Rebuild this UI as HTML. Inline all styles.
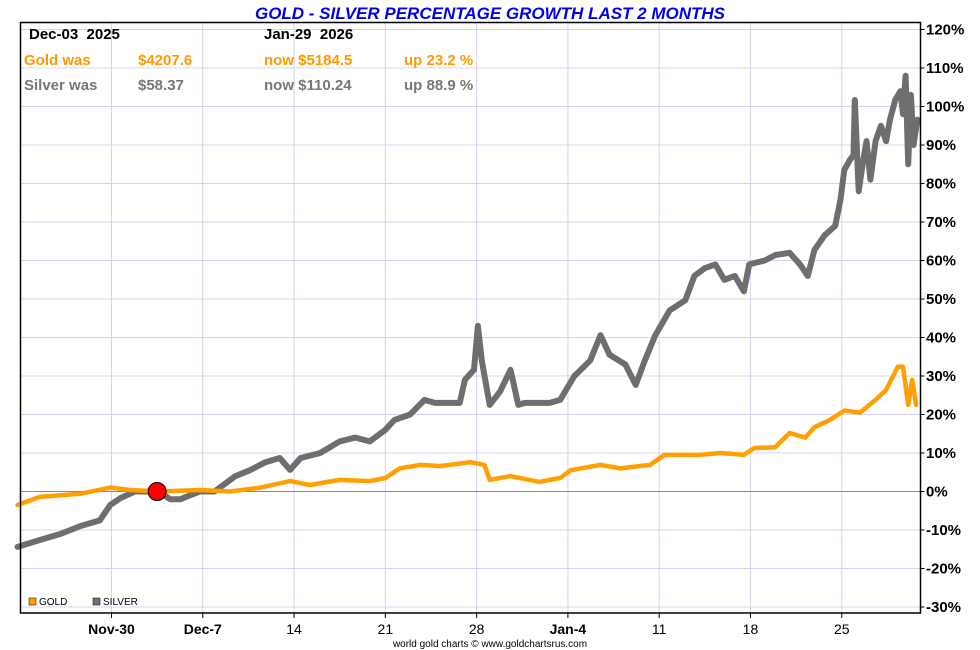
<!DOCTYPE html>
<html><head><meta charset="utf-8"><style>
body{margin:0;background:#fff;}
svg{display:block;font-family:"Liberation Sans",sans-serif;}
</style></head><body>
<svg id="chart" width="980" height="650" viewBox="0 0 980 650"></svg>
<script>
const silverDays=[-7.2,-5.5,-3.9,-2.4,-0.9,-0.1,0.7,1.8,3.6,4.5,5.3,6.0,6.8,7.9,9.5,10.6,11.8,12.9,13.7,14.5,16.0,17.5,18.7,19.8,21.0,21.7,22.9,24.0,24.8,26.7,27.1,27.8,28.1,28.4,29.0,29.8,30.6,31.2,31.7,33.6,34.4,35.5,36.7,37.5,38.2,39.4,40.2,40.9,41.7,42.8,44.0,44.7,45.5,46.3,47.0,47.8,48.5,48.9,50.1,50.9,52.0,52.8,53.4,53.9,54.7,55.5,55.9,56.2,56.6,56.9,57.0,57.3,57.6,57.9,58.2,58.6,59.0,59.4,59.7,60.1,60.5,60.7,60.9,61.1,61.3,61.5,61.8];
const silverPct=[-14.4,-12.6,-11,-9,-7.5,-3.5,-1.7,0,0,-2,-2,-1,0,0,4,5.5,7.6,8.7,5.6,8.7,10,13,14,13,16,18.6,20,23.8,23,23,29,31.6,43,34,22.5,26,31.6,22.5,23,23,23.8,30,34,40.6,35.5,33,27.7,34,40.6,47,49.7,56,58,59,55,56,52,59,60,61.4,62,59,56,62.7,66.6,69,75.7,83.5,86,87.4,101.7,78,85,91,81,91,95,91,96.6,101.7,104,98,108,85,103,90,96.6];
const goldDays=[-7.2,-5.5,-2.4,-0.1,1.4,3.7,6.8,9.1,11.4,13.7,15.2,17.5,19.8,21.0,22.1,23.7,25.2,27.5,28.6,29.0,30.6,32.8,34.4,35.2,37.5,39.0,41.3,42.4,45.1,46.7,48.5,49.3,50.9,52.0,53.2,53.9,55.1,56.2,57.4,58.6,59.4,60.3,60.7,61.1,61.4,61.7];
const goldPct=[-3.5,-1.4,-0.6,1,0.4,0,0.4,0,1,2.7,1.7,3,2.7,3.5,6,6.9,6.6,7.6,6.9,3,4,2.5,3.5,5.5,6.9,6,6.9,9.5,9.5,10,9.5,11.3,11.5,15.2,14,16.7,18.6,21,20.5,23.8,26.4,32.4,32.4,22.5,29,22.5];
const yTicks=[120,110,100,90,80,70,60,50,40,30,20,10,0,-10,-20,-30];
const xTickDays=[0,7,14,21,28,35,42,49,56];
const xTickLabels=["Nov-30","Dec-7","14","21","28","Jan-4","11","18","25"];
const xTickBold=[true,true,false,false,false,true,false,false,false];
const markerDay=3.5, markerPct=0;

const L=20.5,R=920.5,T=22.5,B=613;
const X=d=>111.5+d*13.04;
const Y=p=>491.5-p*3.85;
const svg=document.getElementById('chart');
const NS='http://www.w3.org/2000/svg';
function mk(tag,attrs,text){const e=document.createElementNS(NS,tag);for(const k in attrs)e.setAttribute(k,attrs[k]);if(text!==undefined)e.textContent=text;svg.appendChild(e);return e;}

yTicks.forEach(v=>{const g=mk('line',{x1:L,x2:R,y1:Y(v),y2:Y(v),stroke:'#d4d4f0','stroke-width':1});

});
xTickDays.forEach(d=>{const g=mk('line',{x1:X(d),x2:X(d),y1:T,y2:B,stroke:'#d4d4f0','stroke-width':1});

});
const zl=mk('line',{x1:L,x2:R,y1:Y(0),y2:Y(0),stroke:'#888','stroke-width':1});



function pts(ds,ps){return ds.map((d,i)=>X(d).toFixed(1)+','+Y(ps[i]).toFixed(1)).join(' ');}
const sl=mk('polyline',{points:pts(silverDays,silverPct),fill:'none',stroke:'#6e6e6e','stroke-width':6,'stroke-linejoin':'round','stroke-linecap':'round'});


const gl=mk('polyline',{points:pts(goldDays,goldPct),fill:'none',stroke:'#ffa000','stroke-width':4.5,'stroke-linejoin':'round','stroke-linecap':'round'});


const mkr=mk('circle',{cx:X(markerDay),cy:Y(markerPct),r:9,fill:'#f00',stroke:'#000','stroke-width':1});



const fr=mk('rect',{x:L,y:T,width:R-L,height:B-T,fill:'none',stroke:'#000','stroke-width':1.5});



yTicks.forEach(v=>{const t=mk('line',{x1:R,x2:R+4,y1:Y(v),y2:Y(v),stroke:'#000'});


const lb=mk('text',{x:926,y:Y(v)+5,'font-size':15,'font-weight':'bold',fill:'#000'},v+'%');

});
xTickDays.forEach((d,i)=>{const t=mk('line',{x1:X(d),x2:X(d),y1:B,y2:B+5,stroke:'#000'});


const lb=mk('text',{x:X(d),y:634,'font-size':14,'font-weight':xTickBold[i]?'bold':'normal','text-anchor':'middle',fill:'#000'},xTickLabels[i]);

});
</script>
<script>
(function(){
const svg=document.getElementById('chart');const NS='http://www.w3.org/2000/svg';
function t(x,y,s,attrs,name){const e=document.createElementNS(NS,'text');e.setAttribute('x',x);e.setAttribute('y',y);for(const k in attrs)e.setAttribute(k,attrs[k]);e.textContent=s;


svg.appendChild(e);}
t(490,19,'GOLD - SILVER PERCENTAGE GROWTH LAST 2 MONTHS',{'font-size':17,'font-weight':'bold','font-style':'italic',fill:'#0000ee','text-anchor':'middle'},'chart-title');
const b={'font-size':15,'font-weight':'bold'};
t(29,39,'Dec-03\u00a0\u00a02025',Object.assign({fill:'#000'},b),'start-date');
t(264,39,'Jan-29\u00a0\u00a02026',Object.assign({fill:'#000'},b),'end-date');
const o=Object.assign({fill:'#ff9900'},b);
t(24,65,'Gold was',o,'gold-was-label');t(138,65,'$4207.6',o,'gold-start-price');t(264,65,'now $5184.5',o,'gold-now-price');t(404,65,'up 23.2 %',o,'gold-change');
const g=Object.assign({fill:'#777'},b);
t(24,90,'Silver was',g,'silver-was-label');t(138,90,'$58.37',g,'silver-start-price');t(264,90,'now $110.24',g,'silver-now-price');t(404,90,'up 88.9 %',g,'silver-change');
function r(x,c,name){const e=document.createElementNS(NS,'rect');e.setAttribute('x',x);e.setAttribute('y',598);e.setAttribute('width',7);e.setAttribute('height',7);e.setAttribute('fill',c);e.setAttribute('stroke','#000');e.setAttribute('stroke-width',0.5);


svg.appendChild(e);}
r(29,'#ffa000','legend-gold-swatch');r(93,'#707070','legend-silver-swatch');
t(39,605,'GOLD',{'font-size':10,fill:'#000'},'legend-gold');
t(103,605,'SILVER',{'font-size':10,fill:'#000'},'legend-silver');
t(490,647,'world gold charts © www.goldchartsrus.com',{'font-size':10,fill:'#000','text-anchor':'middle'},'credit');
})();
</script>
</body></html>
